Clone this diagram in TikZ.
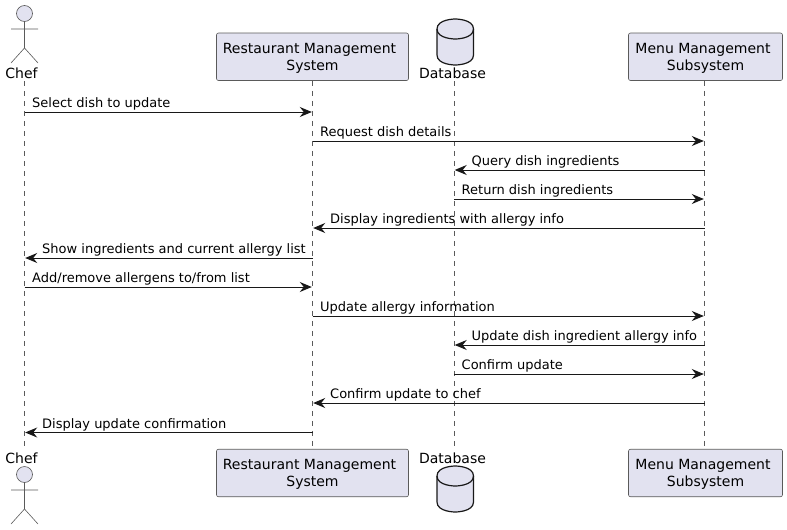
\documentclass[tikz,border=0pt]{standalone}
\usepackage{fontspec}
\setmainfont{DejaVu Sans}
\usetikzlibrary{arrows.meta}
\definecolor{pfill}{HTML}{E2E2F0}
\definecolor{pline}{HTML}{181818}
\definecolor{thinline}{HTML}{5A5A5A}
\tikzset{
  box/.style={draw=thinline,fill=pfill,line width=0.6pt,rounded corners=2pt,minimum width=#1,minimum height=47.5pt,inner sep=0pt,align=center,font=\fontsize{14}{16.5}\selectfont,text=black,text depth=0pt},
  lifeline/.style={draw=thinline,line width=0.5pt,dash pattern=on 5pt off 5pt},
  msgarrow/.style={draw=pline,line width=1pt,shorten >=0.7pt,-{Stealth[length=12pt,width=10pt,inset=4pt,color=pline]}},
  msgtext/.style={anchor=base west,inner sep=0pt,font=\fontsize{13}{15}\selectfont,text=black},
  partname/.style={anchor=base,inner sep=0pt,font=\fontsize{14}{16.5}\selectfont,text=black},
  actorline/.style={draw=thinline,line width=0.6pt,fill=pfill},
  dbshape/.style={draw=pline,line width=1.2pt,fill=pfill}
}
\newcommand{\actorfig}[2]{% x, head centre y
  \draw[actorline] (#1,#2) circle (8pt);
  \draw[actorline,fill=none] (#1,#2+8) -- (#1,#2+34.5)
    (#1-13.5,#2+15.5) -- (#1+13.5,#2+15.5)
    (#1-13.5,#2+49.5) -- (#1,#2+34.5) -- (#1+13.5,#2+49.5);
}
\newcommand{\dbfig}[2]{% x left, y top
  \draw[dbshape] (#1,#2+10) .. controls (#1,#2) and (#1+18.25,#2) .. (#1+18.25,#2)
    .. controls (#1+18.25,#2) and (#1+36.5,#2) .. (#1+36.5,#2+10)
    -- (#1+36.5,#2+36) .. controls (#1+36.5,#2+46) and (#1+18.25,#2+46) .. (#1+18.25,#2+46)
    .. controls (#1+18.25,#2+46) and (#1,#2+46) .. (#1,#2+36) -- cycle;
  \draw[dbshape,fill=none] (#1,#2+10) .. controls (#1,#2+20) and (#1+18.25,#2+20) .. (#1+18.25,#2+20)
    .. controls (#1+18.25,#2+20) and (#1+36.5,#2+20) .. (#1+36.5,#2+10);
}
\newcommand{\msgR}[5]{% name, from, to, y, text (rightward)
  \draw[msgarrow] (#2 |- 0,#4) -- (#3 |- 0,#4);
  \path (#2 |- 0,#4) ++(7.5,-4.3) node[msgtext] (#1) {#5};
}
\newcommand{\msgL}[5]{% name, from, to, y, text (leftward)
  \draw[msgarrow] (#2 |- 0,#4) -- (#3 |- 0,#4);
  \path (#3 |- 0,#4) ++(17.5,-4.3) node[msgtext] (#1) {#5};
}
\begin{document}
\begin{tikzpicture}[x=1pt,y=-1pt]
\useasboundingbox (0,0) rectangle (787,530);
% lifeline ends
\coordinate (chefT) at (24.5,81);
\coordinate (chefB) at (24.5,449);
\coordinate (dbT) at (454,81);
\coordinate (dbB) at (454,449);
\node[box=192pt] (rmsT) at (312.5,56.75) {Restaurant Management\hspace*{6pt}\\System};
\node[box=192pt] (rmsB) at (312.5,473) {Restaurant Management\hspace*{6pt}\\System};
\node[box=154pt] (menuT) at (705.5,56.75) {Menu Management\hspace*{5pt}\\Subsystem};
\node[box=154pt] (menuB) at (705.5,473) {Menu Management\hspace*{5pt}\\Subsystem};
\coordinate (rmsL) at (312.5,0);
\coordinate (menuL) at (704.5,0);
\draw[lifeline] (chefT) -- (chefB);
\draw[lifeline] (rmsT.south) -- (rmsB.north);
\draw[lifeline] (dbT) -- (dbB);
\draw[lifeline] (menuL |- menuT.south) -- (menuL |- menuB.north);
% actors and databases
\actorfig{24.5}{13.5}
\actorfig{24.5}{474.5}
\node[partname] (chefTopLabel) at (21.5,78.3) {Chef};
\node[partname] (chefBotLabel) at (21.5,463.2) {Chef};
\dbfig{437}{19}
\dbfig{437}{466}
\node[partname] (dbTopLabel) at (452.5,78.3) {Database};
\node[partname] (dbBotLabel) at (452.5,463.2) {Database};
% messages
\msgR{m1}{chefT}{rmsL}{112}{Select dish to update}
\msgR{m2}{rmsL}{menuL}{141}{Request dish details}
\msgL{m3}{menuL}{dbT}{170}{Query dish ingredients}
\msgR{m4}{dbT}{menuL}{199}{Return dish ingredients}
\msgL{m5}{menuL}{rmsL}{228}{Display ingredients with allergy info}
\msgL{m6}{rmsL}{chefT}{258}{Show ingredients and current allergy list}
\msgR{m7}{chefT}{rmsL}{287}{Add/remove allergens to/from list}
\msgR{m8}{rmsL}{menuL}{316}{Update allergy information}
\msgL{m9}{menuL}{dbT}{345}{Update dish ingredient allergy info}
\msgR{m10}{dbT}{menuL}{374}{Confirm update}
\msgL{m11}{menuL}{rmsL}{403}{Confirm update to chef}
\msgL{m12}{rmsL}{chefT}{432.5}{Display update confirmation}
\end{tikzpicture}
\end{document}
